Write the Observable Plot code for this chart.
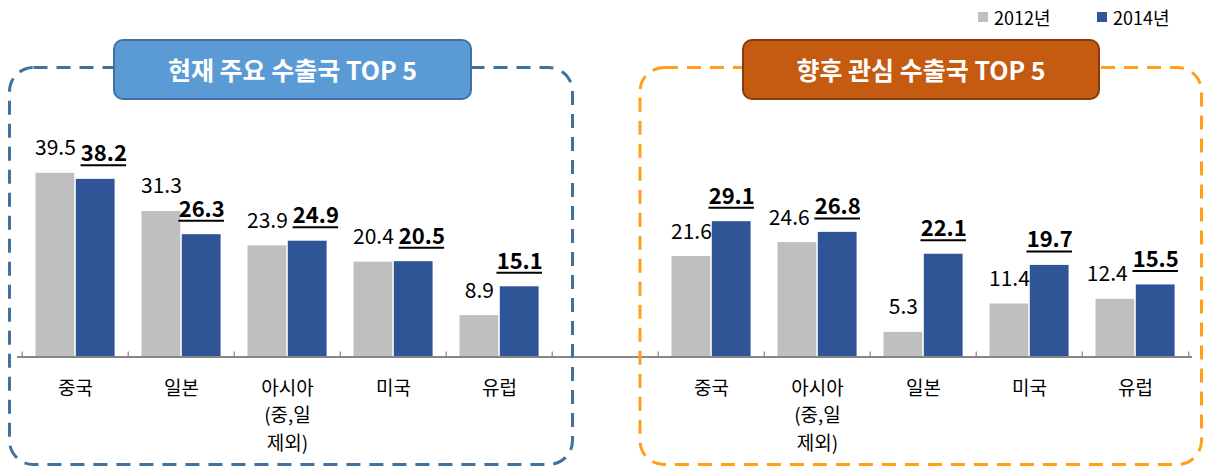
<!DOCTYPE html>
<html>
<head>
<meta charset="utf-8">
<script src="https://cdn.jsdelivr.net/npm/d3@7"></script>
<script src="https://cdn.jsdelivr.net/npm/@observablehq/plot@0.6"></script>
<style>
  body { margin: 0; background: #fff; font-family: "Noto Sans CJK KR", "Noto Sans", sans-serif; }
  #wrap { position: relative; width: 1207px; height: 467px; overflow: hidden; background: #fff; }
  #chart { position: absolute; left: 0; top: 0; }
  #deco { position: absolute; left: 0; top: 0; pointer-events: none; }
  .title { position: absolute; top: 39px; height: 61px; box-sizing: border-box; border-radius: 10px;
           border: 2px solid; color: #fff; font-weight: bold; font-size: 25px; display: flex;
           align-items: center; justify-content: center; white-space: nowrap; padding-bottom: 2px; }
  .legend { position: absolute; top: 5px; height: 24px; display: flex; align-items: center; font-size: 18px; color: #000; }
  .legend i { display: inline-block; width: 10px; height: 10px; margin-right: 6px; }
</style>
</head>
<body>
<div id="wrap">
  <div id="chart"></div>
  <svg id="deco" width="1207" height="467">
    <rect x="9.5" y="67.5" width="563" height="397" rx="24" ry="24" fill="none" stroke="#41719c" stroke-width="3" stroke-dasharray="14 9"></rect>
    <rect x="640" y="67.5" width="561.5" height="397" rx="24" ry="24" fill="none" stroke="#ff9f1a" stroke-width="3" stroke-dasharray="14 9"></rect>
  </svg>
  <div id="t0" class="title" style="left:113px;width:359px;background:#5b9bd5;border-color:#41719c;"></div>
  <div id="t1" class="title" style="left:742px;width:358px;background:#c55a11;border-color:#843c0c;"></div>
  <div id="lg0" class="legend" style="left:978px;"><i style="background:#bfbfbf"></i><span></span></div>
  <div id="lg1" class="legend" style="left:1097px;"><i style="background:#2f5597"></i><span></span></div>
</div>
<script>
// ---- data ----
const leftCategories = ["중국", "일본", "아시아\n(중,일\n제외)", "미국", "유럽"];
const left2012 = [39.5, 31.3, 23.9, 20.4, 8.9];
const left2014 = [38.2, 26.3, 24.9, 20.5, 15.1];
const rightCategories = ["중국", "아시아\n(중,일\n제외)", "일본", "미국", "유럽"];
const right2012 = [21.6, 24.6, 5.3, 11.4, 12.4];
const right2014 = [29.1, 26.8, 22.1, 19.7, 15.5];
const years = ["2012년", "2014년"];
const panelTitles = ["현재 주요 수출국 TOP 5", "향후 관심 수출국 TOP 5"];

// ---- build table ----
const labelOf = new Map();
const keys = [];
const rows = [];
function addPanel(prefix, cats, v12, v14) {
  cats.forEach((c, i) => {
    const k = prefix + i;
    keys.push(k);
    labelOf.set(k, c);
    rows.push({key: k, panel: prefix, year: years[0], value: v12[i]});
    rows.push({key: k, panel: prefix, year: years[1], value: v14[i]});
  });
}
addPanel("L", leftCategories, left2012, left2014);
keys.push("gap"); labelOf.set("gap", "");
addPanel("R", rightCategories, right2012, right2014);

const W = 1207, H = 467;
const xRange = [19, 1191];
const bw = (xRange[1] - xRange[0]) / keys.length;
const yBase = 356.5, yTop = 170.5, yMax = 40;
const pxPerUnit = (yBase - yTop) / yMax;
const fontFam = "'Noto Sans CJK KR', 'Noto Sans', sans-serif";

// bar geometry inside a band
const bar = {
  [years[0]]: {insetLeft: 13.5, insetRight: 53.7, fill: "#bfbfbf"},
  [years[1]]: {insetLeft: 53.8, insetRight: 13.4, fill: "#2f5597"}
};
const labelFont = {[years[0]]: {size: 21, weight: "normal"}, [years[1]]: {size: 22, weight: "bold"}};
const shiftYear = {L: years[1], R: years[0]}; // which label moves when two labels collide

// measure label widths
const ctx = document.createElement("canvas").getContext("2d");
function textWidth(t, f) { ctx.font = `${f.weight} ${f.size}px 'Noto Sans CJK KR'`; return ctx.measureText(t).width; }
rows.forEach(r => {
  const b = bar[r.year];
  r.text = r.value.toFixed(1);
  r.w = textWidth(r.text, labelFont[r.year]);
  r.center = (b.insetLeft + (bw - b.insetRight)) / 2; // relative to band start
});
// simple collision avoidance between the two labels of a category
d3.group(rows, d => d.key).forEach(([a, b]) => {
  const vertGap = Math.abs(a.value - b.value) * pxPerUnit;
  const need = (a.w + b.w) / 2 + 5;
  const dist = b.center - a.center;
  if (vertGap < 18 && need > dist) {
    const mover = a.year === shiftYear[a.panel] ? a : b;
    mover.center += (mover === a ? -1 : 1) * (need - dist);
  }
});

const marks = [];
years.forEach(yr => {
  marks.push(Plot.barY(rows.filter(d => d.year === yr), {x: "key", y: "value", fill: bar[yr].fill,
    insetLeft: bar[yr].insetLeft, insetRight: bar[yr].insetRight}));
});
marks.push(Plot.ruleY([0], {stroke: "#868686", strokeWidth: 2}));
marks.push(Plot.ruleX(keys, {x: d => d, y1: 0, y2: 0, dx: -bw / 2, insetBottom: 5, stroke: "#868686", strokeWidth: 1.2}));
marks.push(Plot.ruleX(keys.slice(-1), {x: d => d, y1: 0, y2: 0, dx: bw / 2, insetBottom: 5, stroke: "#868686", strokeWidth: 1.2}));
rows.forEach(r => {
  const f = labelFont[r.year];
  marks.push(Plot.text([r], {x: "key", y: "value", text: "text", dx: r.center - bw / 2, dy: -18,
    lineAnchor: "bottom", fontSize: f.size, fontWeight: f.weight, fill: "#000"}));
  if (r.year === years[1]) {
    marks.push(Plot.ruleY([r], {x1: "key", x2: "key", y: "value", dy: -14,
      insetLeft: r.center - r.w / 2, insetRight: bw - r.center - r.w / 2, stroke: "#000", strokeWidth: 2}));
  }
});
marks.push(Plot.axisX({anchor: "bottom", tickSize: 0, tickPadding: 18, fontSize: 19, lineHeight: 1.45,
  tickFormat: d => labelOf.get(d), fill: "#000", label: null}));

const chart = Plot.plot({
  width: W,
  height: H,
  marginLeft: 17,
  marginRight: 15,
  marginTop: 0,
  marginBottom: H - yBase,
  style: {fontFamily: fontFam, color: "#000", background: "transparent"},
  x: {domain: keys, range: xRange, padding: 0},
  y: {domain: [0, yMax], range: [yBase, yTop], axis: null},
  marks
});
document.getElementById("chart").appendChild(chart);

document.getElementById("t0").textContent = panelTitles[0];
document.getElementById("t1").textContent = panelTitles[1];
document.querySelector("#lg0 span").textContent = years[0];
document.querySelector("#lg1 span").textContent = years[1];
</script>
</body>
</html>
